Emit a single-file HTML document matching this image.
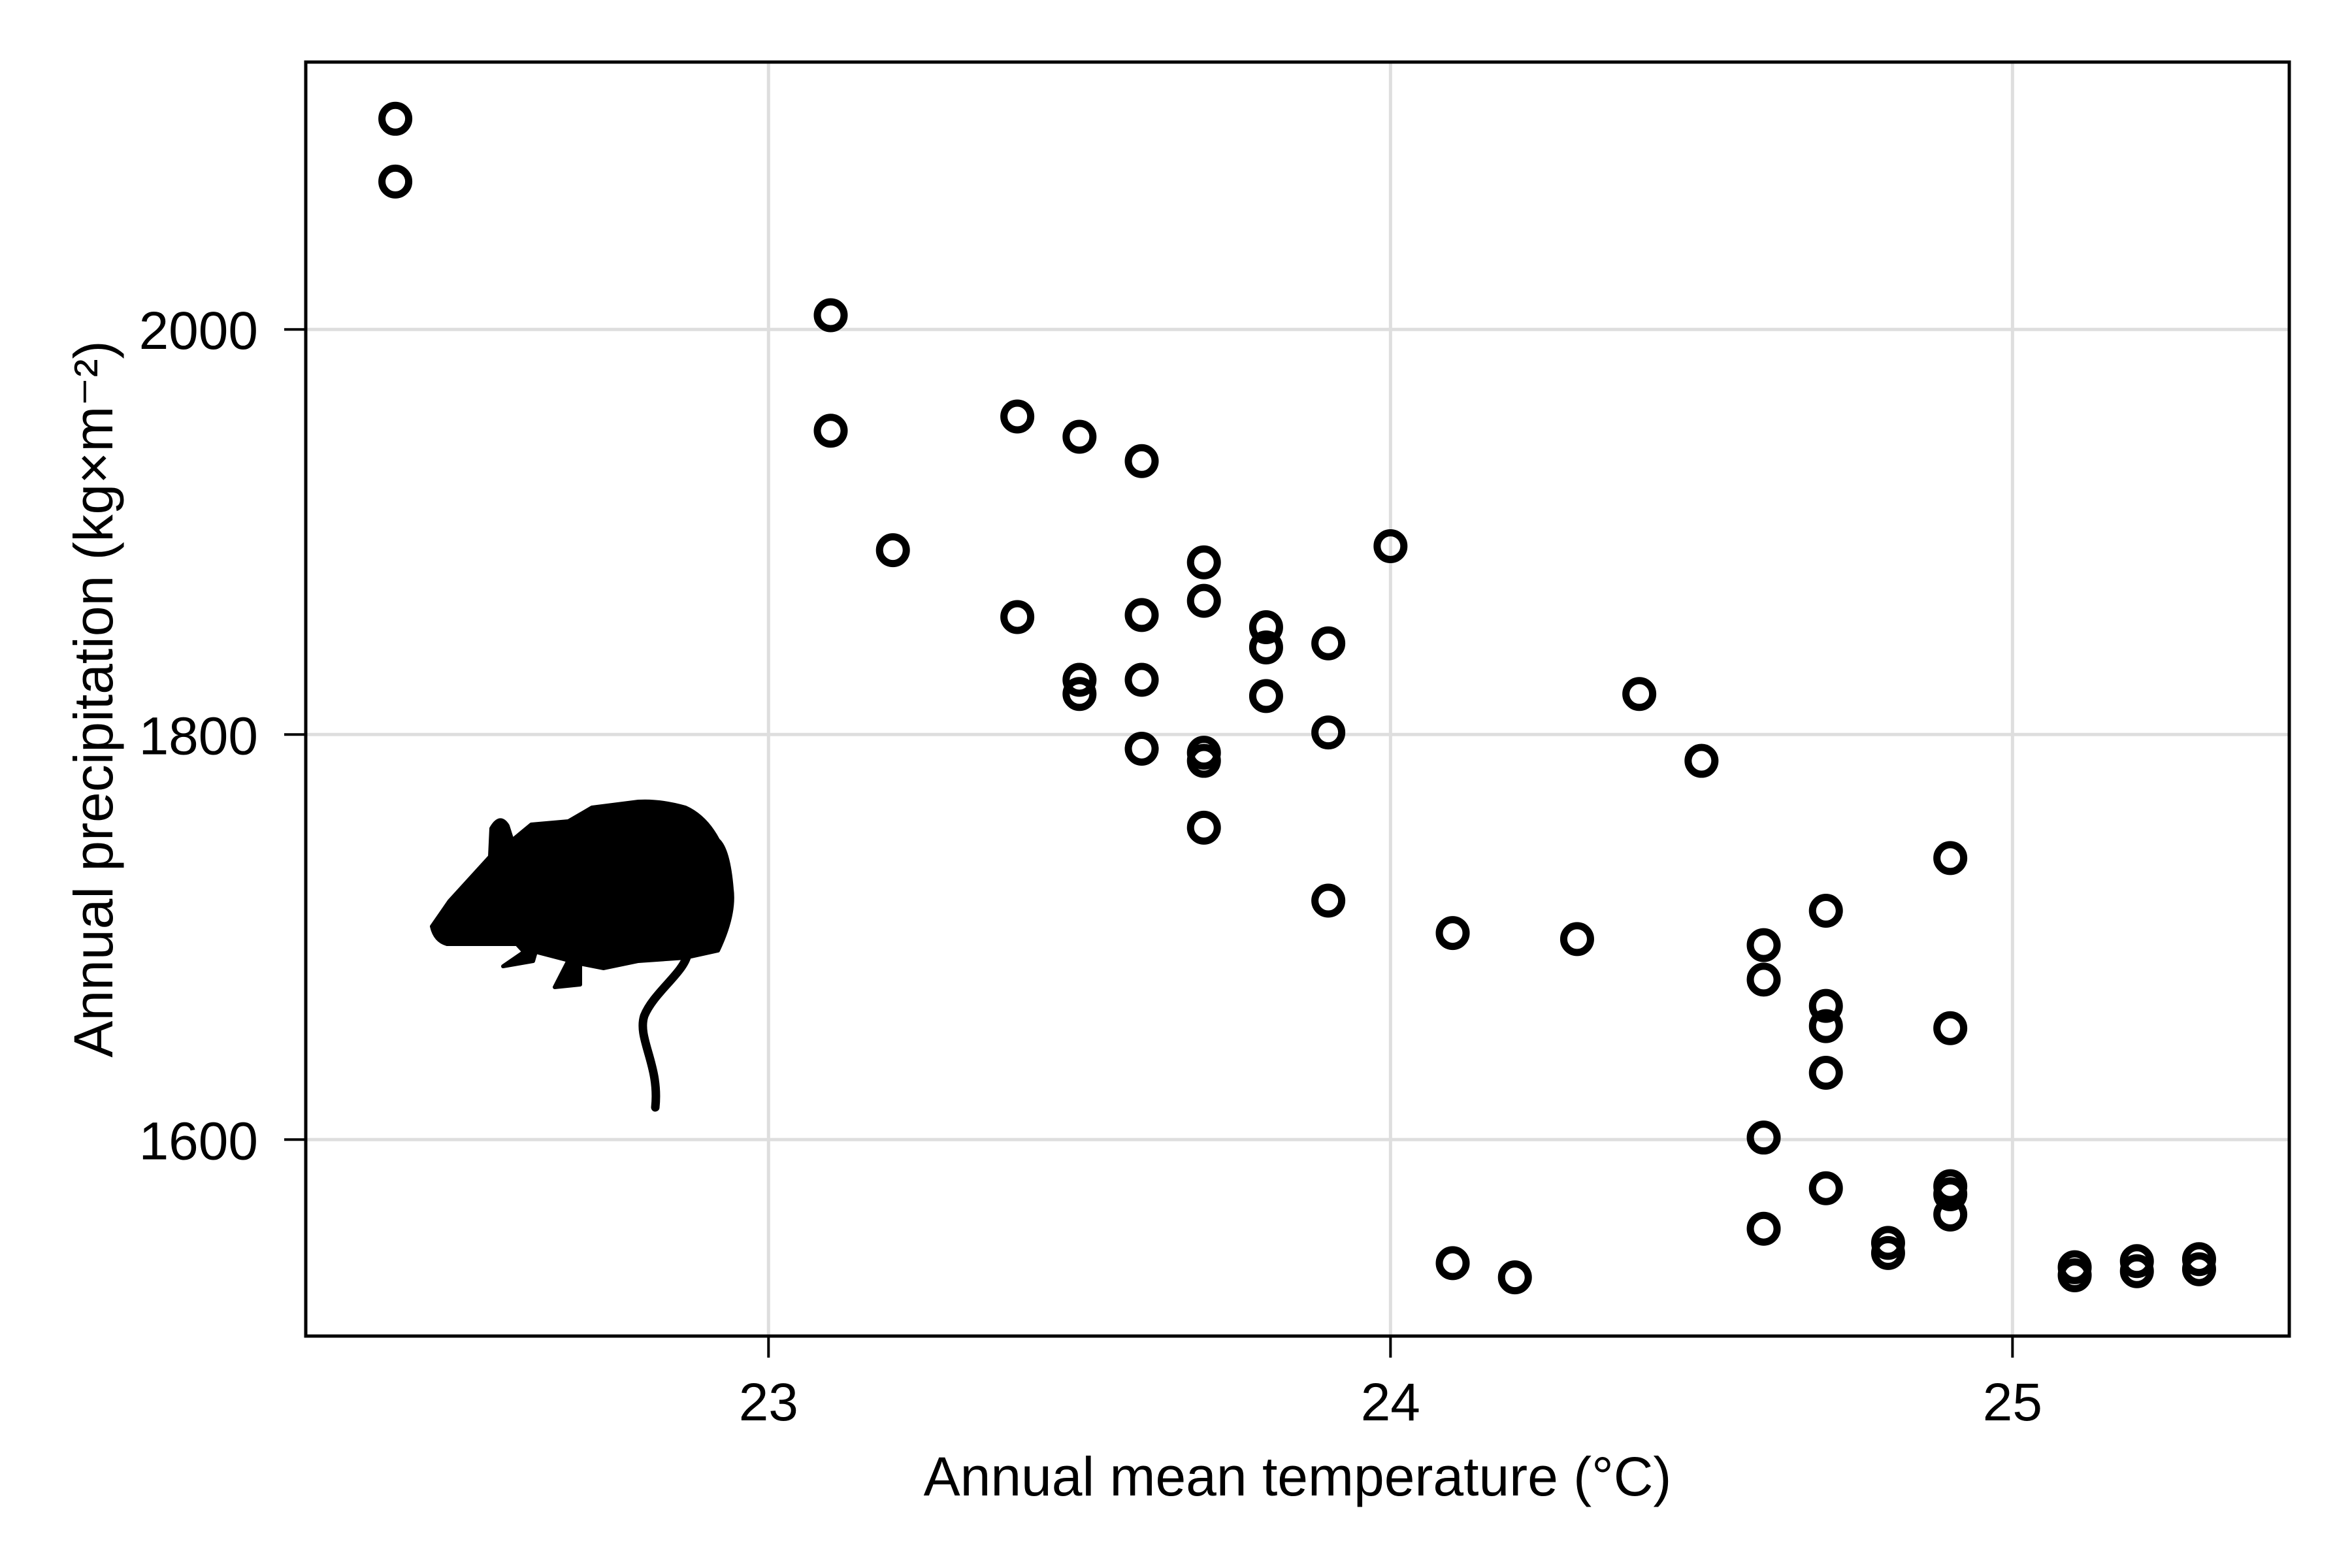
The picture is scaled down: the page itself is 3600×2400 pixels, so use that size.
<!DOCTYPE html>
<html><head><meta charset="utf-8"><style>
html,body{margin:0;padding:0;background:#fff;}
svg{display:block;font-family:"Liberation Sans",sans-serif;}
</style></head><body>
<svg id="chart" width="3600" height="2400" viewBox="0 0 3600 2400" xmlns="http://www.w3.org/2000/svg">
<rect width="3600" height="2400" fill="#fff"/>
<g id="grid"></g>
<g id="mouse">
<path fill="#000" stroke="#000" stroke-width="6" stroke-linejoin="round" d="M661,1418 Q666,1440 684,1445 L791,1445 L802,1457 L770,1479 L816,1471 L820,1457 L870,1470 L849,1511 L888,1507 L888,1475 L924,1482 L977,1471 L1049,1466 L1099,1455 Q1125,1400 1120,1361 Q1115,1300 1099,1286 Q1080,1250 1049,1236 Q1010,1225 977,1227 L906,1236 L870,1257 L813,1262 L784,1286 L777,1264 Q765,1245 752,1268 L750,1311 L688,1379 Z"/>
<path fill="none" stroke="#000" stroke-width="13" stroke-linecap="round" d="M1052,1462 C1045,1490 1000,1520 986,1555 C975,1590 1010,1630 1003,1695"/>
</g>
<g id="marks"></g>
<rect x="468" y="95" width="3036" height="1950" fill="none" stroke="#000" stroke-width="5"/>
<g id="axes"></g>
<text x="1986" y="2289" font-size="84" text-anchor="middle">Annual mean temperature (°C)</text>
<text transform="translate(172,1070) rotate(-90)" font-size="84" text-anchor="middle">Annual precipitation (kg×m⁻²)</text>
</svg>
<script>
const temps = [22.4,22.4,23.1,23.1,23.2,23.4,23.4,23.5,23.5,23.5,23.6,23.6,23.6,23.6,23.7,23.7,23.7,23.7,23.7,23.8,23.8,23.8,23.9,23.9,23.9,24.0,24.1,24.1,24.2,24.3,24.4,24.5,24.6,24.6,24.6,24.6,24.7,24.7,24.7,24.7,24.7,24.8,24.8,24.9,24.9,24.9,24.9,24.9,25.1,25.1,25.2,25.2,25.3,25.3];
const precip = [2104,2073,2007,1950,1891,1957,1858,1947,1827,1820,1935,1859,1827,1793,1885,1866,1791,1787,1754,1853,1843,1819,1845,1801,1718,1893,1702,1539,1532,1699,1820,1787,1696,1679,1601,1556,1713,1666,1656,1633,1576,1549,1544,1739,1655,1577,1573,1563,1537,1533,1540,1535,1541,1536];
const xTicks = [23,24,25];
const yTicks = [1600,1800,2000];
const NS = "http://www.w3.org/2000/svg";
const L=468,R=3504,T=95,B=2045;
const xMin=22.256,xMax=25.445,yMin=1503,yMax=2132;
function sx(v){return L+(v-xMin)/(xMax-xMin)*(R-L);}
function sy(v){return B-(v-yMin)/(yMax-yMin)*(B-T);}
function mk(tag,attrs,parent){const e=document.createElementNS(NS,tag);for(const k in attrs)e.setAttribute(k,attrs[k]);parent.appendChild(e);return e;}
const grid=document.getElementById('grid'),axes=document.getElementById('axes'),marks=document.getElementById('marks');
xTicks.forEach(t=>{
  const x=sx(t);
  const g=mk('line',{x1:x,x2:x,y1:T,y2:B,stroke:'#dedede','stroke-width':5},grid);
  
  
  const tk=mk('line',{x1:x,x2:x,y1:B,y2:B+33,stroke:'#000','stroke-width':4},axes);
  
  
  const lb=mk('text',{x:x,y:2174,'font-size':82,'text-anchor':'middle'},axes);
  lb.textContent=t;
  
  
});
yTicks.forEach(t=>{
  const y=sy(t);
  const g=mk('line',{x1:L,x2:R,y1:y,y2:y,stroke:'#dedede','stroke-width':5},grid);
  
  
  const tk=mk('line',{x1:L-33,x2:L,y1:y,y2:y,stroke:'#000','stroke-width':4},axes);
  
  
  const lb=mk('text',{x:395,y:y+30,'font-size':82,'text-anchor':'end'},axes);
  lb.textContent=t;
  
  
});
temps.forEach((t,i)=>{
  const c=mk('circle',{cx:sx(t),cy:sy(precip[i]),r:20.5,fill:'none',stroke:'#000','stroke-width':11},marks);
  
  
});
</script>
</body></html>
